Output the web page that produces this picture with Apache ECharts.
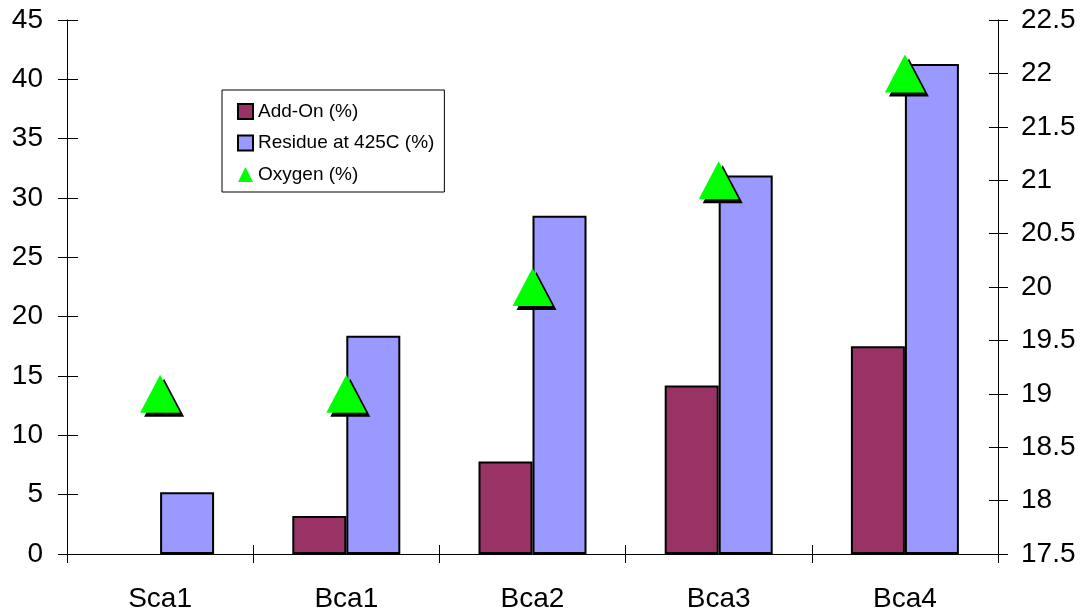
<!DOCTYPE html>
<html><head><meta charset="utf-8">
<script src="https://cdn.jsdelivr.net/npm/echarts@6/dist/echarts.min.js"></script>
<style>html,body{margin:0;padding:0;background:#fff}#c{width:1086px;height:615px}</style>
</head><body><div id="c"></div>
<script>
const categories = ['Sca1', 'Bca1', 'Bca2', 'Bca3', 'Bca4'];
const addOn = [null, 3.2, 7.8, 14.2, 17.5];
const residue = [5.2, 18.4, 28.5, 31.9, 41.3];
const oxygen = [19, 19, 20, 21, 22];
const seriesNames = ['Add-On (%)', 'Residue at 425C (%)', 'Oxygen (%)'];

const font = 'Liberation Sans, Arial, sans-serif';
const chart = echarts.init(document.getElementById('c'), null, {renderer: 'canvas'});
const leftY = {min: 0, max: 45, interval: 5};
const rightY = {min: 17.5, max: 22.5, interval: 0.5};
const axLine = {show: true, lineStyle: {color: '#000', width: 1}};
chart.setOption({
  backgroundColor: '#fff',
  animation: false,
  textStyle: {fontFamily: font},
  grid: {left: 67, right: 88, top: 20, bottom: 61},
  legend: {
    orient: 'vertical', left: 222, top: 90,
    borderColor: '#000', borderWidth: 1,
    padding: [12, 10, 8, 15],
    itemWidth: 15, itemHeight: 15, itemGap: 12.5,
    textStyle: {fontSize: 19, color: '#000', fontFamily: font},
    itemStyle: {shadowColor: 'rgba(0,0,0,0)', shadowBlur: 0, shadowOffsetX: 0, shadowOffsetY: 0},
    data: [
      {name: seriesNames[0], icon: 'rect'},
      {name: seriesNames[1], icon: 'rect'},
      {name: seriesNames[2], icon: 'triangle', itemStyle: {borderWidth: 0, shadowColor: 'rgba(0,0,0,0)'}}
    ]
  },
  xAxis: [
    {type: 'category', data: categories, position: 'bottom',
     axisLine: axLine,
     axisTick: {show: true, length: 9, lineStyle: {color: '#000'}},
     axisLabel: {fontSize: 28, color: '#000', margin: 31, fontFamily: font},
     splitLine: {show: false}},
    {type: 'category', data: categories, position: 'bottom', gridIndex: 0,
     axisLine: {show: false},
     axisTick: {show: true, inside: true, length: 9, lineStyle: {color: '#000'}},
     axisLabel: {show: false}, splitLine: {show: false}}
  ],
  yAxis: [
    Object.assign({type: 'value', position: 'left', axisLine: axLine,
      axisTick: {show: true, length: 9, lineStyle: {color: '#000'}},
      axisLabel: {fontSize: 28, color: '#000', margin: 24, fontFamily: font},
      splitLine: {show: false}}, leftY),
    Object.assign({type: 'value', position: 'right', axisLine: axLine,
      axisTick: {show: true, length: 10, lineStyle: {color: '#000'}},
      axisLabel: {fontSize: 28, color: '#000', margin: 23, fontFamily: font},
      splitLine: {show: false}}, rightY),
    Object.assign({type: 'value', position: 'left', axisLine: {show: false},
      axisTick: {show: true, inside: true, length: 11, lineStyle: {color: '#000'}},
      axisLabel: {show: false}, splitLine: {show: false}}, leftY),
    Object.assign({type: 'value', position: 'right', axisLine: {show: false},
      axisTick: {show: true, inside: true, length: 9, lineStyle: {color: '#000'}},
      axisLabel: {show: false}, splitLine: {show: false}}, rightY)
  ],
  series: [
    {name: seriesNames[0], type: 'bar', data: addOn, barWidth: 54, barGap: '0%',
     itemStyle: {color: '#993366', borderColor: '#000', borderWidth: 2}},
    {name: seriesNames[1], type: 'bar', data: residue, barWidth: 54, barGap: '0%',
     itemStyle: {color: '#9999FF', borderColor: '#000', borderWidth: 2}},
    {name: seriesNames[2], type: 'scatter', yAxisIndex: 1, data: oxygen,
     symbol: 'triangle', symbolSize: [40, 38], z: 5,
     itemStyle: {color: '#00FF00', opacity: 1, shadowColor: '#000', shadowBlur: 0.01, shadowOffsetX: 4, shadowOffsetY: 4}}
  ]
});
</script></body></html>
